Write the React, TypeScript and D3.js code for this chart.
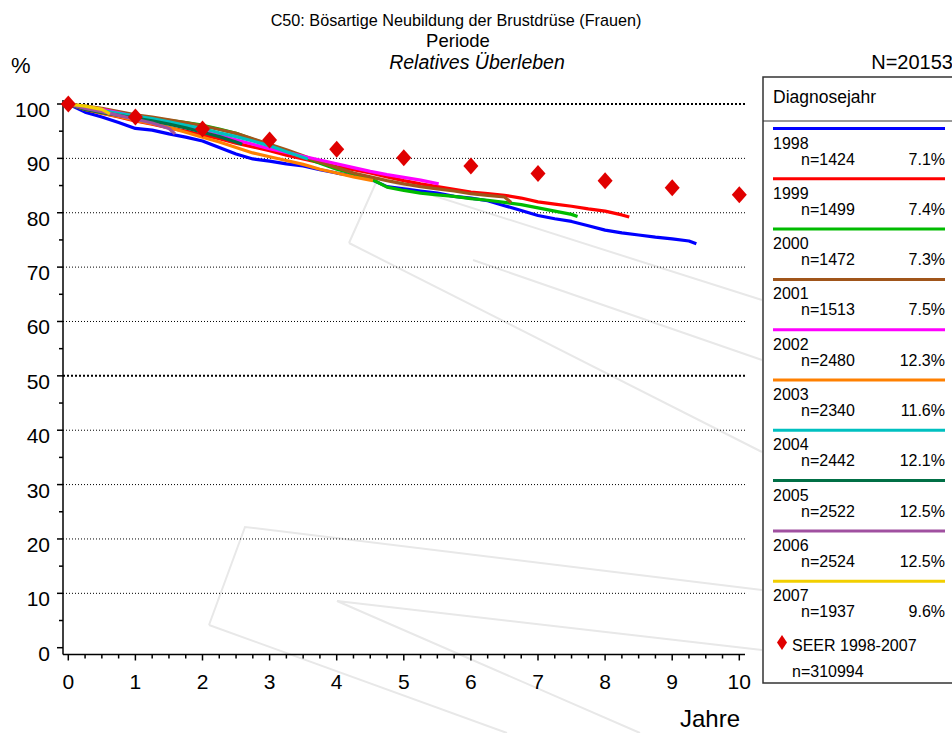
import React from "react";
import * as d3 from "d3";

const diagYears = ["1998", "1999", "2000", "2001", "2002", "2003", "2004", "2005", "2006", "2007"];
const cohortN = [1424, 1499, 1472, 1513, 2480, 2340, 2442, 2522, 2524, 1937];
const cohortPct = ["7.1%", "7.4%", "7.3%", "7.5%", "12.3%", "11.6%", "12.1%", "12.5%", "12.5%", "9.6%"];
const cohortColors = ["#0000ff", "#ff0000", "#00bb00", "#a0551a", "#ff00ff", "#ff8000", "#00c0c0", "#006f45", "#a050a0", "#f2cf00"];

const surv1998: [number, number][] = [[0,100],[0.25,98.5],[0.5,97.6],[0.75,96.6],[1,95.5],[1.25,95.2],[1.5,94.5],[1.75,93.9],[2,93.2],[2.25,92.0],[2.5,90.8],[2.75,89.9],[3,89.5],[3.25,89.0],[3.5,88.6],[3.75,87.9],[4,87.3],[4.25,86.8],[4.5,86.2],[4.75,84.8],[5,84.4],[5.25,84.0],[5.5,83.6],[5.75,83.0],[6,82.7],[6.25,82.2],[6.5,81.3],[6.75,80.4],[7,79.5],[7.25,78.9],[7.5,78.4],[7.75,77.6],[8,76.8],[8.25,76.3],[8.5,75.9],[8.75,75.5],[9,75.2],[9.25,74.8],[9.36,74.3]];
const surv1999: [number, number][] = [[0,100],[0.25,99.0],[0.5,98.3],[0.75,97.6],[1,96.9],[1.25,96.3],[1.5,95.6],[1.75,95.0],[2,94.3],[2.25,93.6],[2.5,92.8],[2.75,92.1],[3,91.4],[3.25,90.6],[3.5,89.9],[3.75,89.2],[4,88.5],[4.25,87.9],[4.5,87.3],[4.75,86.6],[5,85.9],[5.25,85.3],[5.5,84.8],[5.75,84.3],[6,83.8],[6.25,83.5],[6.5,83.2],[6.75,82.7],[7,82.0],[7.25,81.6],[7.5,81.2],[7.75,80.7],[8,80.3],[8.25,79.6],[8.36,79.2]];
const surv2000: [number, number][] = [[0,100],[0.25,99.3],[0.5,98.8],[0.75,98.2],[1,97.8],[1.25,97.4],[1.5,97.0],[1.75,96.6],[2,96.1],[2.25,95.4],[2.5,94.6],[2.75,93.5],[3,92.5],[3.25,91.4],[3.5,90.3],[3.75,89.1],[4,88.0],[4.25,87.2],[4.5,86.3],[4.75,84.7],[5,84.1],[5.25,83.6],[5.5,83.3],[5.75,83.0],[6,82.6],[6.25,82.3],[6.5,81.9],[6.75,81.5],[7,80.9],[7.25,80.3],[7.5,79.7],[7.59,79.3]];
const surv2001: [number, number][] = [[0,100],[0.25,99.6],[0.5,99.2],[0.75,98.6],[1,98.0],[1.25,97.6],[1.5,97.1],[1.75,96.6],[2,96.0],[2.25,95.3],[2.5,94.6],[2.75,93.6],[3,92.6],[3.25,91.6],[3.5,90.5],[3.75,89.3],[4,88.3],[4.25,87.3],[4.5,86.6],[4.75,85.9],[5,85.3],[5.25,84.8],[5.5,84.4],[5.75,84.0],[6,83.5],[6.25,83.2],[6.5,82.9],[6.6,81.9]];
const surv2002: [number, number][] = [[0,100],[0.25,99.5],[0.5,99.0],[0.75,98.4],[1,97.7],[1.25,97.1],[1.5,96.4],[1.75,95.7],[2,95.0],[2.25,94.2],[2.5,93.4],[2.75,92.6],[3,91.8],[3.25,91.1],[3.5,90.4],[3.75,89.7],[4,89.0],[4.25,88.3],[4.5,87.6],[4.75,87.0],[5,86.5],[5.25,86.0],[5.52,85.3]];
const surv2003: [number, number][] = [[0,100],[0.25,99.0],[0.5,98.3],[0.75,97.7],[1,97.0],[1.25,96.4],[1.5,95.7],[1.75,94.8],[2,93.9],[2.25,93.0],[2.5,92.0],[2.75,91.0],[3,90.3],[3.25,89.6],[3.5,88.9],[3.75,88.0],[4,87.3],[4.25,86.6],[4.54,85.9]];
const surv2004: [number, number][] = [[0,100],[0.25,99.4],[0.5,98.8],[0.75,98.3],[1,97.8],[1.25,97.3],[1.5,96.7],[1.75,96.1],[2,95.5],[2.25,94.7],[2.5,94.0],[2.75,93.2],[3,92.3],[3.25,91.2],[3.57,89.9]];
const surv2005: [number, number][] = [[0,100],[0.25,99.0],[0.5,98.4],[0.75,97.9],[1,97.4],[1.25,96.9],[1.5,96.3],[1.75,95.6],[2,94.8],[2.25,94.0],[2.5,93.0],[2.59,92.6]];
const surv2006: [number, number][] = [[0,100],[0.25,99.2],[0.5,98.6],[0.75,97.9],[1,97.2],[1.25,96.5],[1.5,95.5],[1.59,94.5]];
const surv2007: [number, number][] = [[0,100],[0.25,99.6],[0.5,99.0],[0.62,98.2]];
const survSeries = [surv1998, surv1999, surv2000, surv2001, surv2002, surv2003, surv2004, surv2005, surv2006, surv2007];

const seerYears = [0, 1, 2, 3, 4, 5, 6, 7, 8, 9, 10];
const seerValues = [100, 97.6, 95.4, 93.4, 91.7, 90.1, 88.6, 87.2, 85.9, 84.6, 83.3];

const xTicks = [0, 1, 2, 3, 4, 5, 6, 7, 8, 9, 10];
const yTicks = [0, 10, 20, 30, 40, 50, 60, 70, 80, 90, 100];

// faint background watermark strokes (decoration, not data)
const watermark: [number, number][][] = [
  [[349, 243], [378, 178], [762, 300]],
  [[473, 260], [762, 360]],
  [[349, 243], [762, 452]],
  [[209, 625], [245, 527], [762, 590]],
  [[209, 625], [507, 733]],
  [[640, 733], [337, 601], [762, 650]],
];

const FONT = "'Liberation Sans', Arial, sans-serif";

export default function App() {
  const W = 952, H = 733;
  const x = d3.scaleLinear().domain([0, 10]).range([68.3, 739.3]);
  const y = d3.scaleLinear().domain([0, 100]).range([647.7, 104]);
  const line = d3.line<[number, number]>().x(d => x(d[0])).y(d => y(d[1])).curve(d3.curveLinear);
  const axisX0 = 63, axisY = 654.5, gridRight = 745;
  const minorX = d3.range(0, 10.001, 0.25);
  const minorY = d3.range(5, 100, 10);
  const legX = 763, legTop = 77, legBottom = 683;
  const entry0 = 128.5, entryStep = 50.3;
  const diamond = (cx: number, cy: number, w: number, h: number) =>
    `M${cx},${cy - h / 2}L${cx + w / 2},${cy}L${cx},${cy + h / 2}L${cx - w / 2},${cy}Z`;

  return (
    <svg width={W} height={H} style={{ position: "absolute", left: 0, top: 0, background: "#fff" }} fontFamily={FONT}>
      <rect x={0} y={0} width={W} height={H} fill="#fff" />
      {watermark.map((pts, i) => (
        <polyline key={i} points={pts.map(p => p.join(",")).join(" ")} fill="none" stroke="#e8e8e8" strokeWidth={2} />
      ))}
      {/* titles */}
      <text x={456} y={26} textAnchor="middle" fontSize={16.2} fill="#000">C50: Bösartige Neubildung der Brustdrüse (Frauen)</text>
      <text x={458} y={47} textAnchor="middle" fontSize={18.5} fill="#000">Periode</text>
      <text x={477} y={69} textAnchor="middle" fontSize={19.5} fontStyle="italic" fill="#000">Relatives Überleben</text>
      <text x={11} y={73} fontSize={22} fill="#000">%</text>
      <text x={953} y={69} textAnchor="end" fontSize={20} fill="#000">N=20153</text>

      {/* grid */}
      {yTicks.filter(v => v > 0).map(v => {
        const bold = v === 100 || v === 50;
        return (
          <line key={v} x1={axisX0} x2={gridRight} y1={y(v)} y2={y(v)} stroke="#000"
            strokeWidth={bold ? 2 : 1} strokeDasharray={bold ? "2,2" : "1,2"} />
        );
      })}

      {/* axes */}
      <line x1={axisX0} x2={axisX0} y1={100} y2={axisY} stroke="#000" strokeWidth={1.5} />
      <line x1={axisX0} x2={gridRight} y1={axisY} y2={axisY} stroke="#000" strokeWidth={1.5} />
      {yTicks.map(v => (
        <g key={v}>
          <line x1={axisX0 - 6} x2={axisX0} y1={y(v)} y2={y(v)} stroke="#000" strokeWidth={1.5} />
          <text x={50} y={y(v) + 13} textAnchor="end" fontSize={21} fill="#000">{v}</text>
        </g>
      ))}
      {minorY.map(v => (
        <line key={v} x1={axisX0 - 4} x2={axisX0} y1={y(v)} y2={y(v)} stroke="#000" strokeWidth={1.5} />
      ))}
      {minorX.map((v, i) => (
        <line key={i} x1={x(v)} x2={x(v)} y1={axisY} y2={axisY + (Number.isInteger(v) ? 6 : 4)} stroke="#000" strokeWidth={1.5} />
      ))}
      {xTicks.map(v => (
        <text key={v} x={x(v)} y={689} textAnchor="middle" fontSize={21} fill="#000">{v}</text>
      ))}
      <text x={740} y={727} textAnchor="end" fontSize={24} fill="#000">Jahre</text>

      {/* survival curves */}
      {survSeries.map((s, i) => (
        <path key={i} d={line(s) || ""} fill="none" stroke={cohortColors[i]} strokeWidth={3.2} strokeLinejoin="round" />
      ))}
      {/* SEER */}
      {seerYears.map((t, i) => (
        <path key={i} d={diamond(x(t), y(seerValues[i]), 15, 17)} fill="#e00000" />
      ))}

      {/* legend */}
      <rect x={legX} y={legTop} width={W} height={legBottom - legTop} fill="none" stroke="#333" strokeWidth={1.5} />
      <text x={773} y={103} fontSize={17.5} fill="#000">Diagnosejahr</text>
      <line x1={legX} x2={W} y1={121} y2={121} stroke="#333" strokeWidth={1.2} />
      {diagYears.map((yr, i) => {
        const ly = entry0 + i * entryStep;
        return (
          <g key={yr}>
            <line x1={773} x2={945} y1={ly} y2={ly} stroke={cohortColors[i]} strokeWidth={3} />
            <text x={773} y={ly + 20} fontSize={16} fill="#000">{yr}</text>
            <text x={801} y={ly + 36} fontSize={16} fill="#000">{`n=${cohortN[i]}`}</text>
            <text x={945} y={ly + 36} textAnchor="end" fontSize={16} fill="#000">{cohortPct[i]}</text>
          </g>
        );
      })}
      <path d={diamond(782, 642.5, 10, 15)} fill="#e00000" />
      <text x={792} y={651} fontSize={16} fill="#000">SEER 1998-2007</text>
      <text x={792} y={677} fontSize={16} fill="#000">n=310994</text>
    </svg>
  );
}
